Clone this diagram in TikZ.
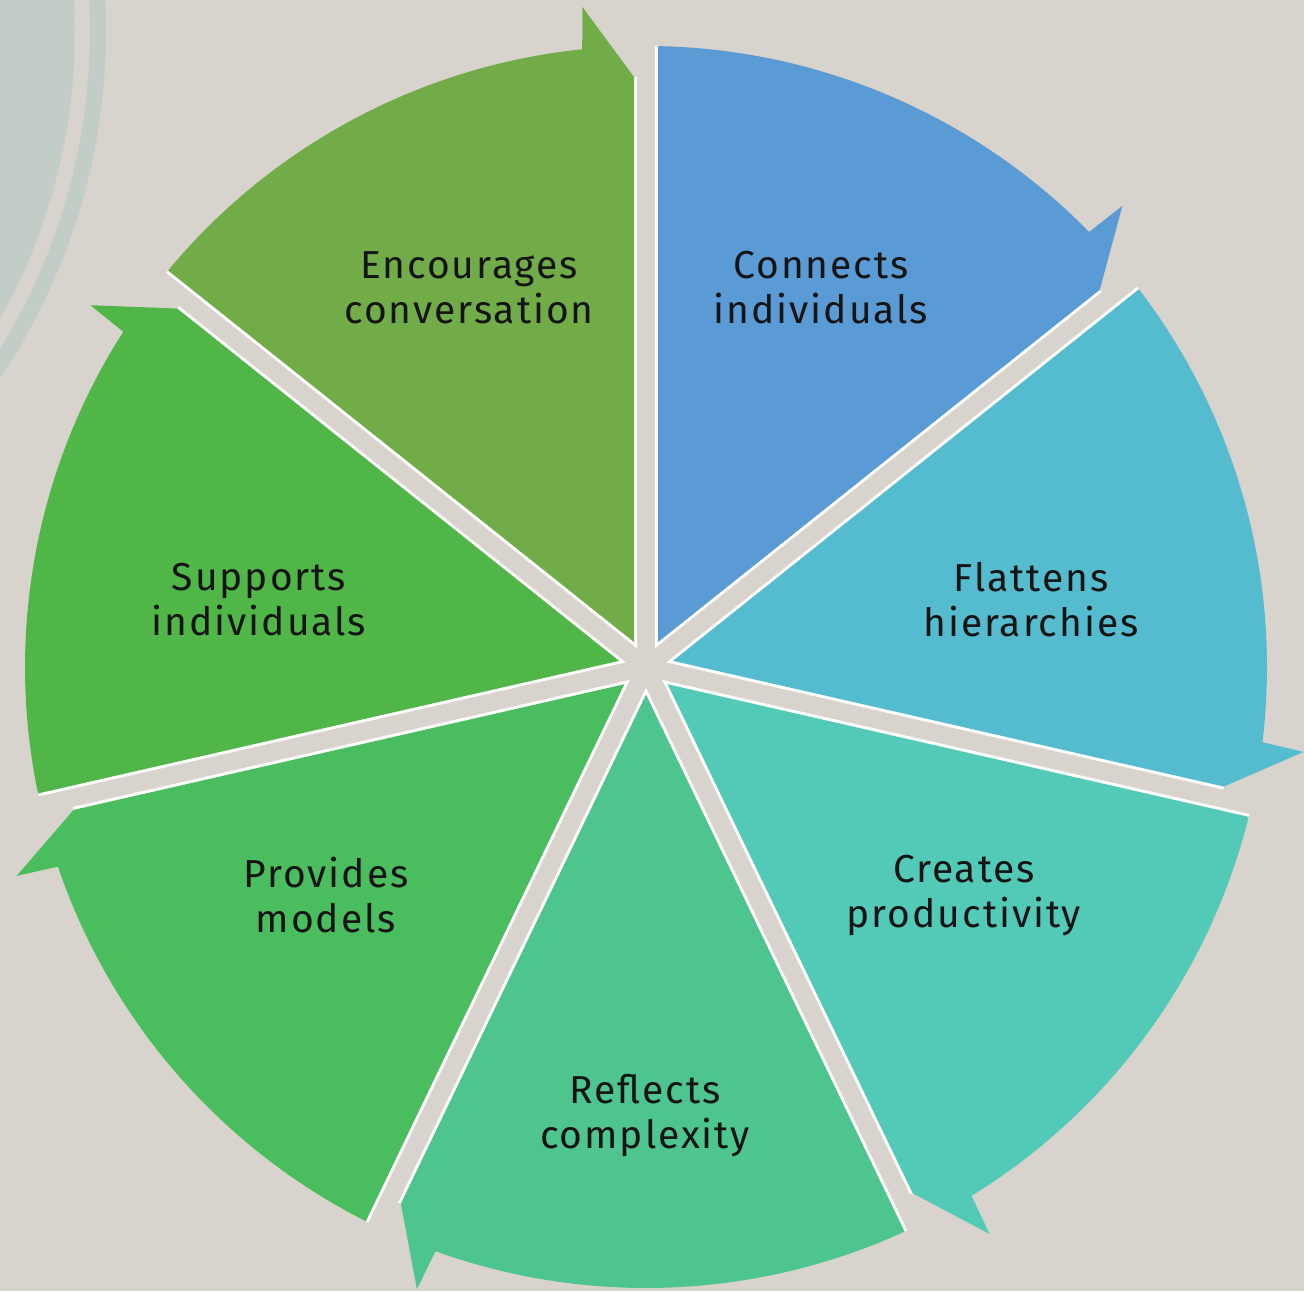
\documentclass[tikz,border=0pt]{standalone}
\usepackage{fontspec}
\newfontfamily\lblfont{Fira Sans}[LetterSpace=5]
\definecolor{bgc}{HTML}{D8D3CD}
\definecolor{arcc}{HTML}{C2CDC7}
\definecolor{cBlue}{HTML}{5A9AD5}
\definecolor{cLightBlue}{HTML}{55BBCF}
\definecolor{cTeal}{HTML}{53C9B7}
\definecolor{cSea}{HTML}{4EC58F}
\definecolor{cGreen}{HTML}{4ABD5F}
\definecolor{cGreenB}{HTML}{50B648}
\definecolor{cOlive}{HTML}{72AC48}
\definecolor{txtc}{HTML}{141414}
\tikzset{
  lbl/.style={align=center, text=txtc, font=\lblfont\fontsize{19.5}{22.5}\selectfont, inner sep=0pt},
  edgeline/.style={draw=white, line width=3pt, line join=miter},
}
% #1 = clockwise ray angle, #2 = colour
\newcommand\segwedge[2]{%
  \draw[edgeline] (#1+50.32:621) -- (#1+25.714:27.66) -- (#1+1.165:590.1);
  \fill[#2] (#1+25.714:27.66) -- (#1+50.32:621)
     arc[start angle=#1+50.32, end angle=#1+5.9, radius=621]
     -- (#1+5.5:663) -- (#1+1.165:590.1) -- cycle;
}
\begin{document}
\begin{tikzpicture}[x=0.5pt,y=0.5pt]
\useasboundingbox (0,0) rectangle (1304,1291);
\fill[bgc] (0,0) rectangle (1304,1291);
\begin{scope}
  \clip (0,0) rectangle (1304,1291);
  \fill[arcc] (-519,1261) circle[radius=594];
  \draw[arcc, line width=8pt] (-519,1261) circle[radius=617];
\end{scope}
\begin{scope}[shift={(646,624)}]
  \segwedge{38.5714}{cBlue}
  \segwedge{-12.8571}{cLightBlue}
  \segwedge{-64.2857}{cTeal}
  \segwedge{-115.7143}{cSea}
  \segwedge{-167.1429}{cGreen}
  \segwedge{-218.5714}{cGreenB}
  \segwedge{90}{cOlive}
\end{scope}
\node[lbl] (t1) at (821,1003) {Connects\\individuals};
\node[lbl] (t2) at (1031,691) {Flattens\\hierarchies};
\node[lbl] (t3) at (964,396) {Creates\\productivity};
\node[lbl] (t4) at (645,175) {Reflects\\complexity};
\node[lbl] (t5) at (326,396) {Provides\\models};
\node[lbl] (t6) at (259,691) {Supports\\individuals};
\node[lbl] (t7) at (469,1003) {Encourages\\conversation};
\end{tikzpicture}
\end{document}
